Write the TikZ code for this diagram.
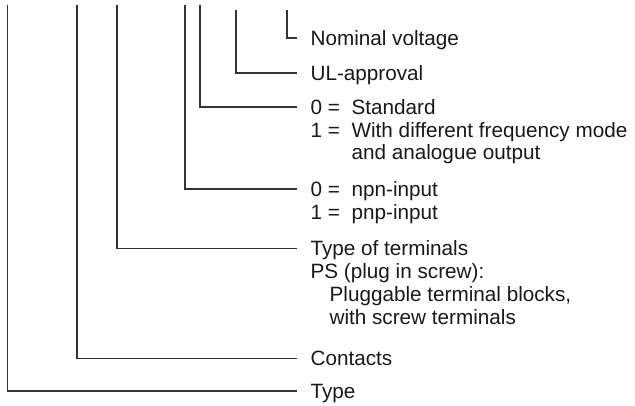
\documentclass[tikz,border=0pt]{standalone}
\usepackage{fontspec}
\setmainfont{Liberation Sans}
\usetikzlibrary{positioning}
\newcommand\opt[1]{\makebox[41pt][l]{#1 =}}

\begin{document}
\begin{tikzpicture}[x=1pt,y=-1pt,line width=1.2pt,
  lead/.style={draw=black!80},
  lbl/.style={anchor=west,inner xsep=13pt,inner ysep=0pt,text height=14.8pt,
    text depth=0pt,text=black!90,font=\fontsize{20.7}{21.5}\selectfont},
  more/.style={lbl,below=6.7pt of #1.south west,anchor=north west}]
\useasboundingbox (0,0) rectangle (635,405);
\coordinate (ttype) at (7.5,5);
\coordinate (tcon) at (77,5);
\coordinate (tterm) at (117,5);
\coordinate (tinp) at (185,5);
\coordinate (tmode) at (200,5);
\coordinate (tul) at (236,10);
\coordinate (tvolt) at (287,10);
\node[lbl] (volt) at (297,38) {Nominal voltage};
\node[lbl] (ul) at (297,73) {UL-approval};
\node[lbl] (mode) at (297,107) {\opt{0}Standard};
\node[more=mode] (mode2) {\opt{1}With different frequency mode};
\node[more=mode2] (mode3) {\hspace{41pt}and analogue output};
\node[lbl] (inp) at (297,189) {\opt{0}npn-input};
\node[more=inp] (inp2) {\opt{1}pnp-input};
\node[lbl] (term) at (297,248.5) {Type of terminals};
\node[more=term] (term2) {PS (plug in screw):};
\node[more=term2] (term3) {\hspace{19pt}Pluggable terminal blocks,};
\node[more=term3] (term4) {\hspace{19pt}with screw terminals};
\node[lbl] (con) at (297,358.5) {Contacts};
\node[lbl] (type) at (297,391) {Type};
\draw[lead] (tvolt) |- (volt);
\draw[lead] (tul) |- (ul);
\draw[lead] (tmode) |- (mode);
\draw[lead] (tinp) |- (inp);
\draw[lead] (tterm) |- (term);
\draw[lead] (tcon) |- (con);
\draw[lead] (ttype) |- (type);
\end{tikzpicture}
\end{document}
